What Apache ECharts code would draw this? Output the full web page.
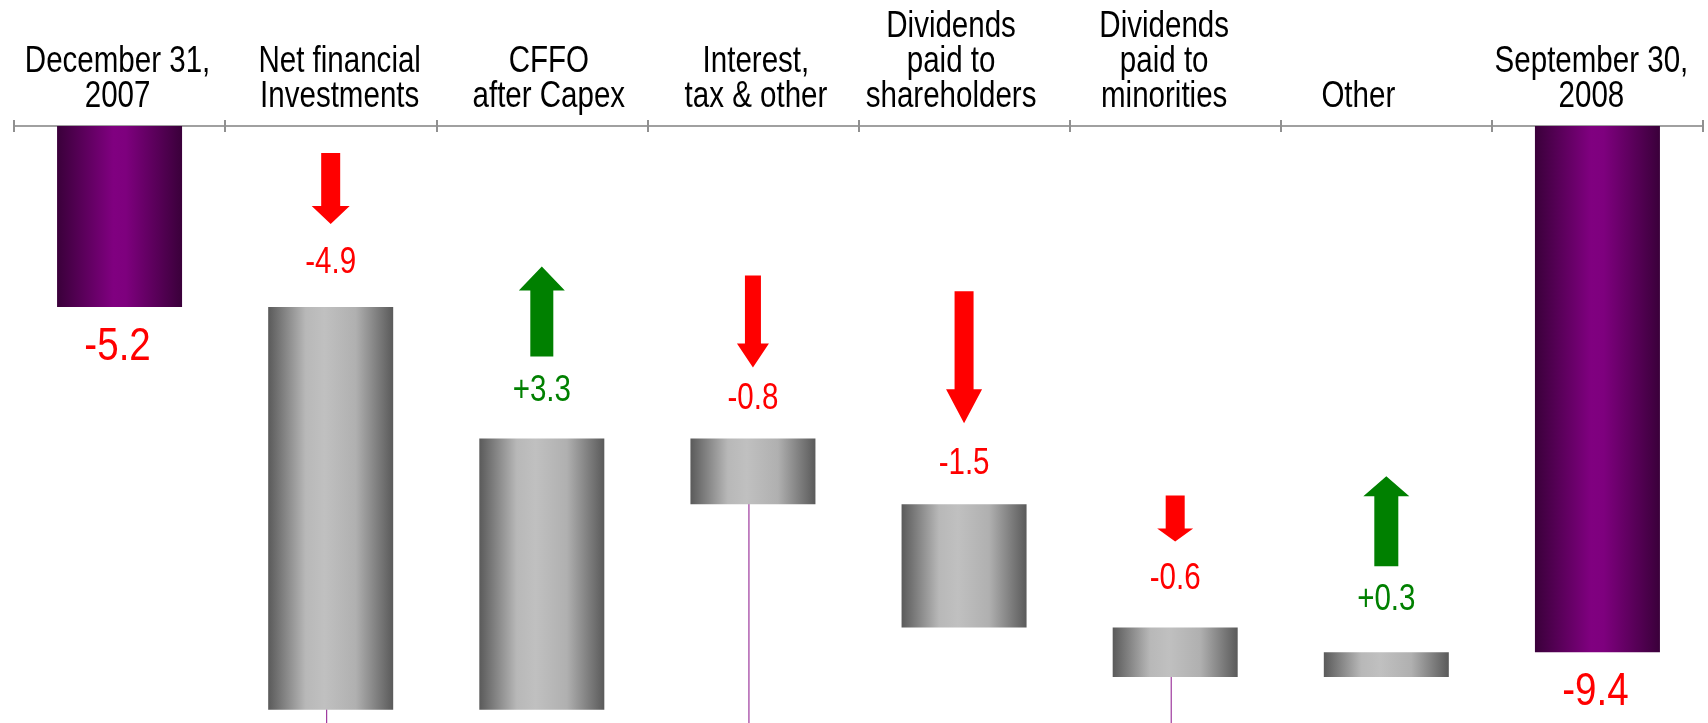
<!DOCTYPE html>
<html>
<head>
<meta charset="utf-8">
<script src="https://cdn.jsdelivr.net/npm/echarts@6/dist/echarts.min.js"></script>
<style>
    html, body { margin: 0; padding: 0; background: #fff; }
    #net_debt { width: 1708px; height: 723px; }
</style>
</head>
<body>
<div id="net_debt"></div>
<script>
// 数据
var categories = ['December 31,\n2007', 'Net financial\nInvestments', 'CFFO\nafter Capex', 'Interest,\ntax & other',
    'Dividends\npaid to\nshareholders', 'Dividends\npaid to\nminorities', 'Other', 'September 30,\n2008'];
var openingBalance = -5.2;
var changes = [-4.9, 3.3, -0.8, -1.5, -0.6, 0.3];
var changeLabels = ['-4.9', '+3.3', '-0.8', '-1.5', '-0.6', '+0.3'];
var closingBalance = -9.4;
var stubCategories = [1, 3, 5];   // thin purple lines hanging under these bars

// Liberation Sans squeezed to 82% ~ Arial Narrow
var FONT = "'Liberation Sans', Arial, sans-serif";
var NARROW = 0.82;

window.onload = function () {
    draw_waterfall();
};

function narrowText(text, x, y, size, color, vAlign, lineHeight) {
    return {
        type: 'text',
        x: x, y: y, scaleX: NARROW,
        style: {
            text: text, x: 0, y: 0,
            align: 'center', verticalAlign: vAlign,
            fill: color, fontFamily: FONT, fontSize: size,
            lineHeight: lineHeight || size
        }
    };
}

function draw_waterfall() {
    var myChart = echarts.init(document.getElementById('net_debt'));

    // 瀑布图：透明底 + 灰色增减
    var baseData = ['-'], deltaData = ['-'], totalData = [openingBalance];
    var arrowData = [], bottoms = {};
    var level = openingBalance;
    changes.forEach(function (c, i) {
        var next = Math.round((level + c) * 10) / 10;
        var top = Math.max(level, next), bottom = Math.min(level, next);
        baseData.push(top);
        deltaData.push(Math.round((bottom - top) * 10) / 10);
        totalData.push('-');
        arrowData.push([i + 1, top, c]);
        bottoms[i + 1] = bottom;
        level = next;
    });
    baseData.push('-');
    deltaData.push('-');
    totalData.push(closingBalance);

    var stubData = stubCategories.map(function (k) { return [k, bottoms[k]]; });
    var totalLabelData = [[0, openingBalance], [categories.length - 1, closingBalance]];
    var catLabelData = categories.map(function (c, i) { return [i, openingBalance]; });

    // arrow look per change (px)
    var arrowLen = [71, 90, 92, 132, 46, 90];
    var headW = [38, 46, 32, 36, 36, 46];
    var shaftW = [19, 23, 16, 19, 19, 24];
    var headH = [18, 24, 24, 34, 13, 20];
    var arrowGap = [83, 82, 71, 81, 86, 86];
    var labelGap = [44, 47, 39, 40, 48, 52];
    // category text nudges (px), as placed on the slide
    var labelShift = [-2, 9, 7, 3, -13, -11, -28, -6];

    var grey = new echarts.graphic.LinearGradient(0, 0, 1, 0, [
        { offset: 0, color: '#5a5a5a' },
        { offset: 0.3, color: '#b8b8b8' },
        { offset: 0.45, color: '#c0c0c0' },
        { offset: 0.7, color: '#b0b0b0' },
        { offset: 1, color: '#5a5a5a' }
    ]);
    var purple = new echarts.graphic.LinearGradient(0, 0, 1, 0, [
        { offset: 0, color: '#3a003a' },
        { offset: 0.45, color: '#800080' },
        { offset: 0.55, color: '#7e007e' },
        { offset: 1, color: '#3a003a' }
    ]);

    var option = {
        animation: false,
        grid: { left: 14, right: 5, top: 126, bottom: 5 },
        xAxis: [{
            type: 'category',
            position: 'top',
            data: categories,
            axisLine: { show: true, lineStyle: { color: '#a0a0a0', width: 2 } },
            axisTick: { show: true, length: 6, lineStyle: { color: '#909090', width: 2 } },
            axisLabel: { show: false }
        }, {
            type: 'category',
            position: 'top',
            data: categories,
            axisLine: { show: false },
            axisTick: { show: true, inside: true, length: 6, lineStyle: { color: '#909090', width: 2 } },
            axisLabel: { show: false }
        }],
        yAxis: { type: 'value', min: -10.2, max: -3, show: false },
        series: [{
            name: 'base',
            type: 'bar',
            stack: 'w',
            barWidth: 125,
            itemStyle: { color: 'transparent' },
            data: baseData
        }, {
            name: 'change',
            type: 'bar',
            stack: 'w',
            barWidth: 125,
            itemStyle: { color: grey },
            data: deltaData
        }, {
            name: 'balance',
            type: 'bar',
            stack: 'w',
            barWidth: 125,
            itemStyle: { color: purple },
            data: totalData
        }, {
            name: 'stub',
            type: 'custom',
            z: 1,
            clip: false,
            renderItem: function (params, api) {
                var p = api.coord([api.value(0), api.value(1)]);
                return {
                    type: 'line',
                    shape: { x1: p[0] - 4, y1: p[1] - 3, x2: p[0] - 4, y2: api.getHeight() },
                    style: { stroke: '#8a108a', lineWidth: 1 }
                };
            },
            data: stubData
        }, {
            name: 'categoryText',
            type: 'custom',
            clip: false,
            renderItem: function (params, api) {
                var i = params.dataIndex;
                var x = api.coord([api.value(0), api.value(1)])[0] + labelShift[i];
                return narrowText(categories[i], x, params.coordSys.y - 11.5, 36, '#000', 'bottom', 35);
            },
            data: catLabelData
        }, {
            name: 'balanceText',
            type: 'custom',
            clip: false,
            renderItem: function (params, api) {
                var v = api.value(1);
                var p = api.coord([api.value(0), v]);
                return narrowText(v.toFixed(1), p[0] - 2, p[1] + 40, 47, '#ff0000', 'middle');
            },
            data: totalLabelData
        }, {
            name: 'arrows',
            type: 'custom',
            clip: false,
            renderItem: function (params, api) {
                var i = params.dataIndex;
                var v = api.value(2);
                var p = api.coord([api.value(0), api.value(1)]);
                var x = p[0];
                var yb = p[1] - arrowGap[i];        // lower end of arrow
                var yt = yb - arrowLen[i];           // upper end of arrow
                var hw = headW[i] / 2, sw = shaftW[i] / 2, hh = headH[i];
                var pts, color;
                if (v < 0) {
                    color = '#ff0000';
                    pts = [[x - sw, yt], [x + sw, yt], [x + sw, yb - hh], [x + hw, yb - hh],
                        [x, yb], [x - hw, yb - hh], [x - sw, yb - hh]];
                } else {
                    color = '#008000';
                    pts = [[x, yt], [x + hw, yt + hh], [x + sw, yt + hh], [x + sw, yb],
                        [x - sw, yb], [x - sw, yt + hh], [x - hw, yt + hh]];
                }
                return {
                    type: 'group',
                    children: [{
                        type: 'polygon',
                        shape: { points: pts },
                        style: { fill: color }
                    }, narrowText(changeLabels[i], x, p[1] - labelGap[i], 36, color, 'middle')]
                };
            },
            data: arrowData
        }]
    };
    myChart.setOption(option);
}
</script>
</body>
</html>
